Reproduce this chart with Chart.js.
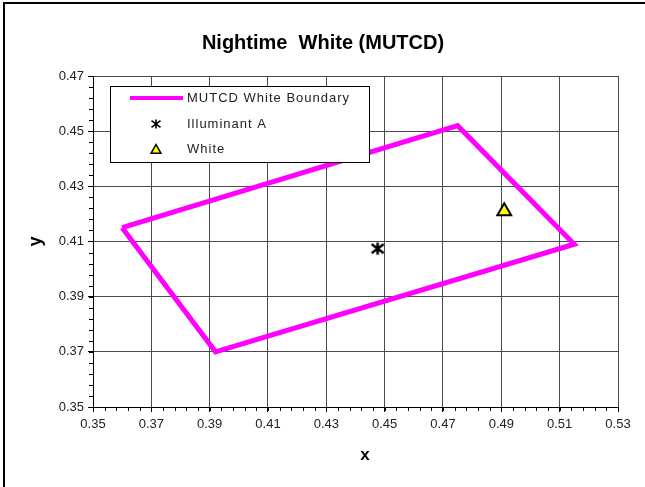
<!DOCTYPE html>
<html><head><meta charset="utf-8">
<script src="https://cdn.jsdelivr.net/npm/chart.js@4"></script>
<style>html,body{margin:0;padding:0;background:#fff}#wrap{width:645px;height:487px;position:relative}canvas{display:block}</style>
</head><body><div id="wrap"><canvas id="c" width="645" height="487"></canvas></div>
<script>
const chartTitle = 'Nightime  White (MUTCD)';
const seriesNames = ['MUTCD White Boundary', 'Illuminant A', 'White'];
const boundaryX = [0.360, 0.475, 0.515, 0.392, 0.360];
const boundaryY = [0.415, 0.452, 0.409, 0.370, 0.415];
const illuminantAX = [0.4476];
const illuminantAY = [0.4074];
const whiteX = [0.491];
const whiteY = [0.421];
const xTicks = [0.35, 0.37, 0.39, 0.41, 0.43, 0.45, 0.47, 0.49, 0.51, 0.53];
const yTicks = [0.35, 0.37, 0.39, 0.41, 0.43, 0.45, 0.47];
const minorStep = 0.004;

function pts(xs, ys) { return xs.map((x, i) => ({x: x, y: ys[i]})); }

// asterisk-like marker (x with vertical bar)
function makeStar(size, lw) {
  const c = document.createElement('canvas');
  c.width = size; c.height = size;
  const g = c.getContext('2d');
  g.strokeStyle = '#000'; g.lineWidth = lw; g.lineCap = 'butt';
  const m = size / 2, r = size / 2 - 1.5;
  g.beginPath();
  g.moveTo(m - r, m - r * 0.75); g.lineTo(m + r, m + r * 0.75);
  g.moveTo(m + r, m - r * 0.75); g.lineTo(m - r, m + r * 0.75);
  g.moveTo(m, m - r); g.lineTo(m, m + r);
  g.stroke();
  return c;
}
const starImg = makeStar(15, 2.5);
const starSmall = makeStar(12, 1.6);

function drawTri(ctx, cx, cy, r) {
  ctx.beginPath();
  ctx.moveTo(cx, cy - r);
  ctx.lineTo(cx + r * 0.9, cy + r * 0.6);
  ctx.lineTo(cx - r * 0.9, cy + r * 0.6);
  ctx.closePath();
  ctx.fillStyle = '#ffff00'; ctx.fill();
  ctx.strokeStyle = '#000'; ctx.lineWidth = 1.5; ctx.stroke();
}

const decor = {
  id: 'decor',
  beforeDraw(chart) {
    const ctx = chart.ctx;
    ctx.save();
    ctx.fillStyle = '#fff';
    ctx.fillRect(0, 0, chart.width, chart.height);
    ctx.fillStyle = '#000';
    ctx.fillRect(3, 2, 2, chart.height);
    ctx.fillRect(3, 2, chart.width, 2);
    ctx.restore();
  },
  afterDraw(chart) {
    const ctx = chart.ctx;
    const xs = chart.scales.x, ys = chart.scales.y;
    const a = chart.chartArea;
    ctx.save();
    ctx.strokeStyle = '#000'; ctx.lineWidth = 1;
    ctx.beginPath();
    for (let v = xs.min; v <= xs.max + 1e-9; v += minorStep) {
      const p = Math.round(xs.getPixelForValue(v)) + 0.5;
      ctx.moveTo(p, a.bottom); ctx.lineTo(p, a.bottom + 4);
    }
    for (let v = ys.min; v <= ys.max + 1e-9; v += minorStep) {
      const p = Math.round(ys.getPixelForValue(v)) + 0.5;
      ctx.moveTo(a.left - 4, p); ctx.lineTo(a.left, p);
    }
    ctx.stroke();
    // legend
    const L = {x: 110, y: 86, w: 259, h: 76};
    ctx.fillStyle = '#fff';
    ctx.fillRect(L.x, L.y, L.w, L.h);
    ctx.strokeStyle = '#000'; ctx.lineWidth = 1;
    ctx.strokeRect(L.x + 0.5, L.y + 0.5, L.w, L.h);
    ctx.font = '13px "Liberation Sans", Arial, sans-serif';
    ctx.textBaseline = 'middle';
    ctx.textAlign = 'left';
    try { ctx.letterSpacing = '1px'; } catch (e) {}
    const rows = [L.y + 12, L.y + 38, L.y + 63];
    ctx.strokeStyle = '#ff00ff'; ctx.lineWidth = 4;
    ctx.beginPath(); ctx.moveTo(130, rows[0]); ctx.lineTo(183, rows[0]); ctx.stroke();
    ctx.drawImage(starSmall, 156 - 6, rows[1] - 6);
    drawTri(ctx, 156, rows[2] + 1, 5.5);
    ctx.fillStyle = '#222';
    ctx.fillText(seriesNames[0], 187, rows[0]);
    ctx.fillText(seriesNames[1], 187, rows[1]);
    ctx.fillText(seriesNames[2], 187, rows[2]);
    ctx.restore();
  }
};

const tickFont = {family: '"Liberation Sans", Arial, sans-serif', size: 13};
new Chart(document.getElementById('c'), {
  type: 'scatter',
  data: {
    datasets: [
      {label: seriesNames[0], data: pts(boundaryX, boundaryY), showLine: true, borderColor: '#ff00ff', backgroundColor: '#ff00ff', borderWidth: 5, pointRadius: 0, borderJoinStyle: 'miter', order: 3},
      {label: seriesNames[1], data: pts(illuminantAX, illuminantAY), pointStyle: starImg, pointRadius: 8, order: 2},
      {label: seriesNames[2], data: pts(whiteX, whiteY), pointStyle: 'triangle', pointRadius: 8, backgroundColor: '#ffff00', borderColor: '#000', borderWidth: 2, order: 1}
    ]
  },
  options: {
    responsive: false, animation: false, devicePixelRatio: 1,
    layout: {padding: {top: 0, right: 27, bottom: 0, left: 28}},
    plugins: {
      legend: {display: false}, tooltip: {enabled: false},
      title: {display: true, text: chartTitle, color: '#000',
        font: {family: '"Liberation Sans", Arial, sans-serif', size: 20, weight: 'bold', lineHeight: 1.2},
        padding: {top: 31, bottom: 21}}
    },
    scales: {
      x: {type: 'linear', min: 0.35, max: 0.53,
        afterBuildTicks: s => { s.ticks = xTicks.map(v => ({value: v})); },
        afterFit: s => { s.height = 80; },
        ticks: {callback: v => v.toFixed(2), color: '#222', font: tickFont, padding: 5, maxRotation: 0},
        grid: {color: '#4a4a4a', lineWidth: 1, tickLength: 5, tickColor: '#000'},
        border: {color: '#000', width: 1},
        title: {display: true, text: '    x', color: '#000', font: {family: '"Liberation Sans", Arial, sans-serif', size: 17, weight: 'bold', lineHeight: 1.2}, padding: {top: 0, bottom: 21}}
      },
      y: {type: 'linear', min: 0.35, max: 0.47,
        afterBuildTicks: s => { s.ticks = yTicks.map(v => ({value: v})); },
        afterFit: s => { s.width = 65; },
        ticks: {callback: v => v.toFixed(2), color: '#222', font: tickFont, padding: 4},
        grid: {color: '#4a4a4a', lineWidth: 1, tickLength: 5, tickColor: '#000'},
        border: {color: '#000', width: 1},
        title: {display: true, text: 'y', color: '#000', font: {family: '"Liberation Sans", Arial, sans-serif', size: 18, weight: 'bold', lineHeight: 0.9}, padding: {top: 0, bottom: 0}}
      }
    }
  },
  plugins: [decor]
});
</script></body></html>
